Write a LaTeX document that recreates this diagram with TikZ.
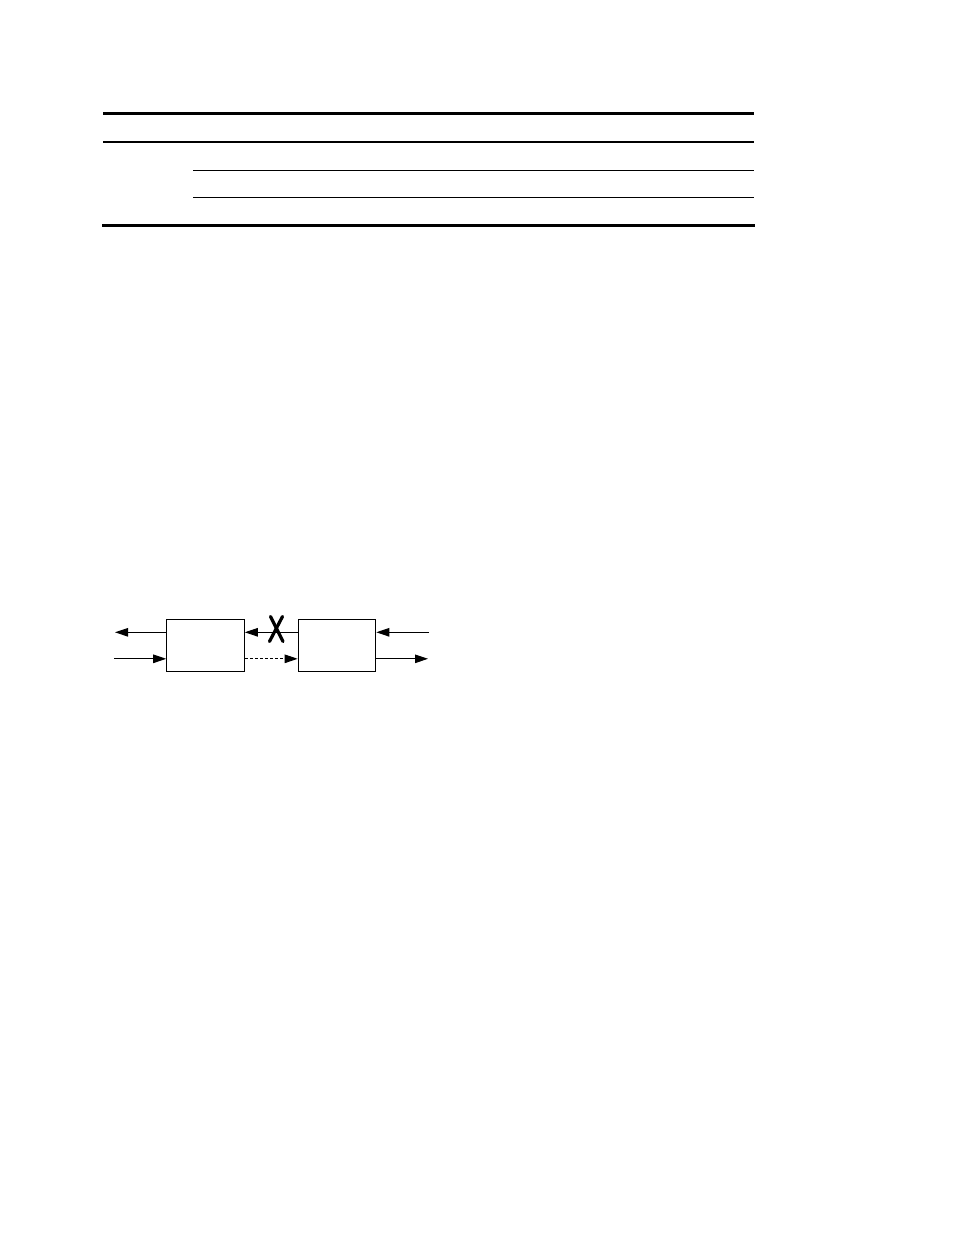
\documentclass[tikz,border=0pt]{standalone}
\usetikzlibrary{arrows.meta}
\begin{document}
\begin{tikzpicture}[x=1pt,y=-1pt,
  box/.style={draw,line width=1pt,minimum width=77.6pt,minimum height=51.7pt,inner sep=0pt},
  conn/.style={line width=1pt,-{Triangle[length=13pt,width=8.5pt]}},
  rule/.style={line cap=butt}]
\useasboundingbox (0,0) rectangle (954,1235);
% table rules
\draw[rule,line width=3pt] (103,113.5) -- (754,113.5);
\draw[rule,line width=2pt] (103,141.8) -- (754,141.8);
\draw[rule,line width=1pt] (193,170.5) -- (754,170.5);
\draw[rule,line width=1pt] (193,197) -- (754,197);
\draw[rule,line width=3pt] (102,225.3) -- (755,225.3);
% diagram
\node[box] (b1) at (205.5,645.2) {};
\node[box] (b2) at (337,645.2) {};
\coordinate (lout) at (115,632.3);
\coordinate (lin) at (114,658.8);
\coordinate (rin) at (429,632.3);
\coordinate (rout) at (428,658.8);
\draw[conn] (b1.west |- lout) -- (lout);
\draw[conn] (lin) -- (b1.west |- lin);
\draw[conn] (rin) -- (b2.east |- rin);
\draw[conn] (b2.east |- rout) -- (rout);
\draw[conn] (b2.west |- lout) -- (b1.east |- lout);
\draw[conn,dash pattern=on 3pt off 2pt] (b1.east |- lin) -- (b2.west |- lin);
% break mark
\draw[line width=3.2pt,line cap=round] (270.5,616.5) -- (283,641.5);
\draw[line width=3.2pt,line cap=round] (282.5,616.5) -- (269.5,641.5);
\end{tikzpicture}
\end{document}
